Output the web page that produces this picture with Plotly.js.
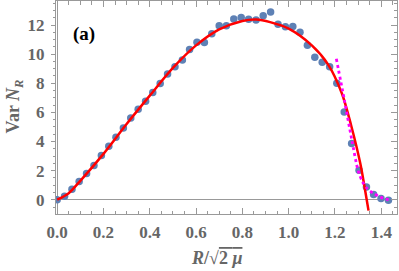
<!DOCTYPE html>
<html>
<head>
<meta charset="utf-8">
<script src="https://cdn.plot.ly/plotly-3.0.1.min.js"></script>
<style>html,body{margin:0;padding:0;background:#fff;}#chart{width:399px;height:271px;}</style>
</head>
<body>
<div id="chart"></div>
<script>
// Simulation points (blue dots)
const pointX = [0, 0.032, 0.064, 0.095, 0.127, 0.159, 0.191, 0.223, 0.254, 0.286, 0.318, 0.350, 0.382, 0.413, 0.445, 0.477, 0.509, 0.541, 0.572, 0.604, 0.636, 0.668, 0.700, 0.731, 0.763, 0.795, 0.827, 0.859, 0.890, 0.922, 0.954, 0.986, 1.018, 1.049, 1.081, 1.113, 1.145, 1.177, 1.208, 1.240, 1.272, 1.304, 1.336, 1.367, 1.399, 1.431];
const pointY = [0.0, 0.24, 0.72, 1.25, 1.80, 2.35, 3.04, 3.68, 4.30, 4.92, 5.61, 6.21, 6.76, 7.37, 7.98, 8.63, 9.13, 9.59, 10.32, 10.81, 10.80, 11.40, 11.95, 11.95, 12.41, 12.52, 12.39, 12.35, 12.63, 12.89, 12.05, 11.88, 11.90, 11.50, 10.61, 9.78, 9.44, 9.13, 8.00, 6.02, 3.87, 2.03, 0.88, 0.36, 0.08, -0.03];
// Red theory curve
const redX = [0, 0.05, 0.1, 0.2, 0.3, 0.4, 0.5, 0.6, 0.7, 0.8, 0.86, 0.92, 1.0, 1.1, 1.17, 1.23, 1.27, 1.31, 1.335, 1.345];
const redY = [0, 0.45, 1.3, 3.15, 5.2, 7.15, 9.05, 10.6, 11.7, 12.28, 12.38, 12.2, 11.75, 10.6, 9.3, 7.3, 5.1, 2.45, 0.2, -0.75];
// Magenta dotted edge curve
const magX = [1.206, 1.24, 1.273, 1.30, 1.32, 1.34, 1.367, 1.396, 1.432];
const magY = [9.68, 6.9, 4.1, 2.0, 1.2, 0.75, 0.43, 0.18, 0.0];
// Tick settings
const xTickVals = [0, 0.2, 0.4, 0.6, 0.8, 1.0, 1.2, 1.4];
const xTickText = ["0.0", "0.2", "0.4", "0.6", "0.8", "1.0", "1.2", "1.4"];
const yTickVals = [0, 2, 4, 6, 8, 10, 12];
const yTickText = ["0", "2", "4", "6", "8", "10", "12"];

const gray = '#999999';
const labelGray = '#666666';
const serif = "Liberation Serif";
const tickFont = {family: serif, size: 17, color: labelGray, weight: 'bold'};

const traces = [
  {x: pointX, y: pointY, type: 'scatter', mode: 'markers',
   marker: {color: '#5E81B5', size: 7.5}, cliponaxis: true, hoverinfo: 'skip'},
  {x: redX, y: redY, type: 'scatter', mode: 'lines',
   line: {color: '#FF0000', width: 2.5, shape: 'spline', smoothing: 0.8}, hoverinfo: 'skip'},
  {x: magX, y: magY, type: 'scatter', mode: 'lines',
   line: {color: '#FF00FF', width: 2.8, dash: 'dot', shape: 'spline', smoothing: 0.8}, hoverinfo: 'skip'},
  {x: [0], y: [0], yaxis: 'y2', type: 'scatter', mode: 'markers', marker: {opacity: 0}, hoverinfo: 'skip'}
];

const layout = {
  width: 399, height: 271,
  margin: {l: 56, r: 2, t: 1, b: 57},
  paper_bgcolor: '#fff', plot_bgcolor: '#fff',
  showlegend: false,
  xaxis: {
    range: [-0.005, 1.468],
    showgrid: false, zeroline: true, zerolinecolor: gray, zerolinewidth: 1,
    showline: true, linecolor: gray, linewidth: 1, mirror: 'ticks',
    ticks: 'inside', ticklen: 6, tickcolor: gray, tickwidth: 1,
    tickvals: xTickVals, ticktext: xTickText, tickfont: tickFont,
    ticklabelstandoff: 3,
    minor: {dtick: 0.05, tick0: 0, ticks: 'inside', ticklen: 3.5, tickcolor: gray, tickwidth: 1, showgrid: false}
  },
  yaxis: {
    range: [-0.98, 13.65],
    showgrid: false, zeroline: true, zerolinecolor: gray, zerolinewidth: 1,
    showline: true, linecolor: gray, linewidth: 1, mirror: true,
    ticks: 'outside', ticklen: 4, tickcolor: gray, tickwidth: 1,
    tickvals: yTickVals, ticktext: yTickText, tickfont: tickFont,
    ticklabelstandoff: 3,
    minor: {dtick: 0.5, tick0: 0, ticks: 'outside', ticklen: 2.5, tickcolor: gray, tickwidth: 1, showgrid: false}
  },
  yaxis2: {
    overlaying: 'y', side: 'right', matches: 'y',
    showgrid: false, zeroline: false, showline: false,
    ticks: 'inside', ticklen: 6, tickcolor: gray, tickwidth: 1,
    tickvals: yTickVals, showticklabels: false,
    minor: {dtick: 0.5, tick0: 0, ticks: 'inside', ticklen: 3.5, tickcolor: gray, tickwidth: 1, showgrid: false}
  },
  annotations: [
    {xref: 'paper', yref: 'paper', x: 0.47, y: -0.205, xanchor: 'center', yanchor: 'middle',
     text: "<b><i>R</i>/√<span style='text-decoration:overline'>2 <i>μ</i></span></b>", showarrow: false,
     font: {family: serif, size: 18, color: labelGray}},
    {xref: 'paper', yref: 'paper', x: -0.122, y: 0.507, xanchor: 'center', yanchor: 'middle',
     textangle: -90, text: "<b>Var <i>N</i><sub><i>R</i></sub></b>", showarrow: false,
     font: {family: serif, size: 18, color: labelGray}},
    {xref: 'x', yref: 'y', x: 0.116, y: 11.35, xanchor: 'center', yanchor: 'middle',
     text: "<b>(a)</b>", showarrow: false,
     font: {family: serif, size: 19, color: '#000'}}
  ]
};

Plotly.newPlot('chart', traces, layout, {staticPlot: true, displayModeBar: false});
</script>
</body>
</html>
